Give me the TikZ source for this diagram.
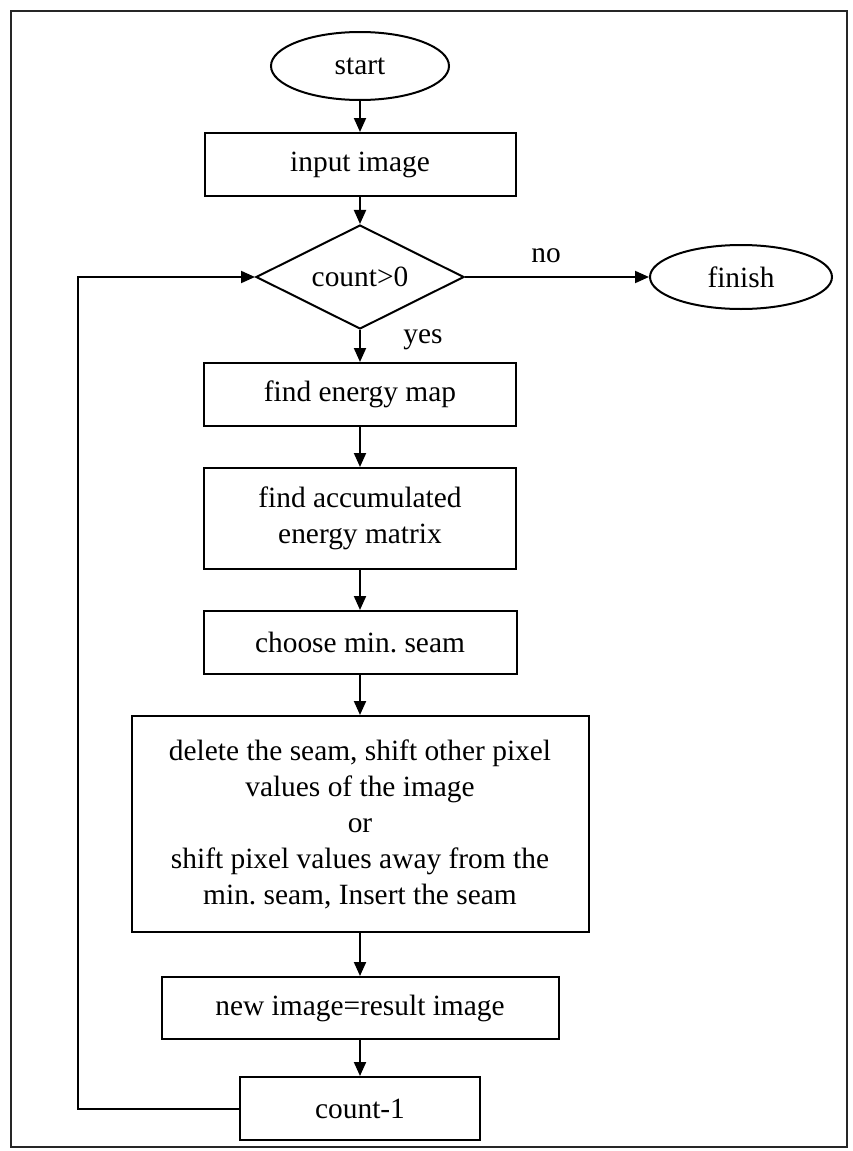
\documentclass[tikz,border=0pt]{standalone}
\usepackage{fontspec}
\setmainfont{Liberation Serif}
\usetikzlibrary{shapes.geometric,arrows.meta,positioning}

\begin{document}
\begin{tikzpicture}[x=0.5pt,y=-0.5pt,
	every node/.style={font=\fontsize{14.7}{18}\selectfont},
	process/.style={draw,line width=1pt,rectangle,inner sep=0pt,align=center},
	terminal/.style={draw,line width=1pt,ellipse,inner sep=0pt},
	decision/.style={draw,line width=1pt,diamond,aspect=2,inner sep=0pt},
	flow/.style={line width=1pt,-{Triangle[length=7pt,width=6pt]}}]
	\useasboundingbox (0,0) rectangle (852,1151);
	\draw[line width=0.8pt,black!85] (11,11) rectangle (847,1147);
	% flow chart nodes
	\node[terminal,minimum width=89pt,minimum height=34pt] (start) at (360,66) {start};
	\node[process,minimum width=155.5pt,minimum height=31.5pt] (input) at (360,164.5) {input image};
	\node[decision,minimum width=104pt,minimum height=52pt] (test) at (360,277) {count>0};
	\node[terminal,minimum width=91pt,minimum height=32pt] (finish) at (741,277) {finish};
	\node[process,minimum width=156pt,minimum height=31.5pt] (energy) at (360,394.5) {find energy map};
	\node[process,minimum width=156pt,minimum height=50.5pt] (accum) at (360,518.5) {find accumulated\\energy matrix};
	\node[process,minimum width=156.5pt,minimum height=31.5pt] (choose) at (360,642.5) {choose min.\ seam};
	\node[process,minimum width=228.5pt,minimum height=108pt] (seam) at (360,824)
		{delete the seam, shift other pixel\\values of the image\\or\\shift pixel values away from the\\min.\ seam, Insert the seam};
	\node[process,minimum width=198.5pt,minimum height=31pt] (newimg) at (360,1008) {new image=result image};
	\node[process,minimum width=120pt,minimum height=31.5pt] (countm) at (360,1108.5) {count-1};
	\coordinate (loopx) at (78,0);
	% connectors
	\draw[flow] (start) -- (input);
	\draw[flow] (input) -- (test);
	\draw[flow] (test) -- (finish);
	\node (no) at (546,256) {no};
	\draw[flow] (test) -- (energy);
	\node (yes) at (423,340) {yes};
	\draw[flow] (energy) -- (accum);
	\draw[flow] (accum) -- (choose);
	\draw[flow] (choose) -- (seam);
	\draw[flow] (seam) -- (newimg);
	\draw[flow] (newimg) -- (countm);
	\draw[flow] (countm.west) -- (countm.west -| loopx) -- (test.west -| loopx) -- (test.west);
\end{tikzpicture}
\end{document}
